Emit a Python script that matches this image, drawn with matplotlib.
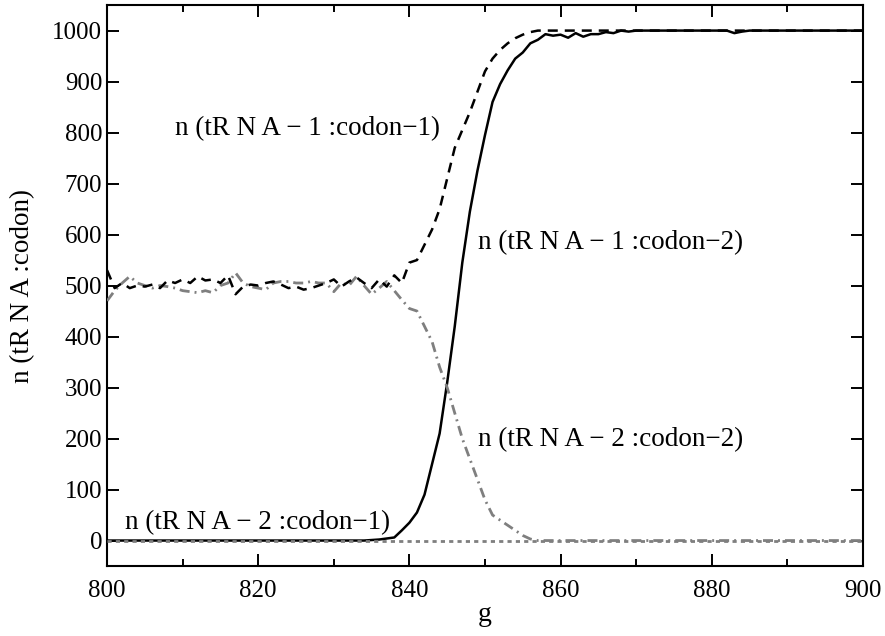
import numpy as np
import matplotlib
matplotlib.use("Agg")
import matplotlib.pyplot as plt
from matplotlib.ticker import MultipleLocator

plt.rcParams['font.family'] = ['Liberation Serif', 'DejaVu Serif']

# generation index
g = np.arange(800, 901)

# n(tRNA-1:codon-1), black dashed
t1c1 = [530, 495, 505, 495, 500, 498, 502, 495, 510, 505,
        512, 505, 518, 510, 512, 505, 520, 483, 498, 502,
        500, 505, 508, 502, 495, 498, 492, 495, 500, 505,
        512, 498, 508, 516, 505, 495, 512, 498, 520, 505,
        545, 550, 580, 610, 650, 710, 770, 805, 840, 880,
        920, 945, 962, 975, 985, 992, 997, 1000, 1000, 1000] + [1000] * 41

# n(tRNA-1:codon-2), black solid
t1c2 = [0] * 35 + [1, 2, 4, 6, 20,
        35, 55, 90, 150, 210, 310, 420, 545, 645, 725,
        795, 860, 895, 922, 945, 957, 975, 982, 993, 990,
        992, 986, 995, 988, 993, 993, 997, 995, 1000, 998,
        1000, 1000, 1000, 1000, 1000, 1000, 1000, 1000, 1000, 1000,
        1000, 1000, 1000, 995, 998, 1000, 1000, 1000, 1000, 1000,
        1000, 1000, 1000, 1000, 1000, 1000, 1000, 1000, 1000, 1000,
        1000]

# n(tRNA-2:codon-2), grey dash-dot
t2c2 = [470, 490, 505, 518, 505, 500, 495, 500, 498, 495,
        490, 488, 486, 490, 486, 500, 505, 525, 505, 498,
        495, 492, 505, 508, 508, 505, 505, 508, 505, 505,
        488, 505, 500, 518, 500, 483, 495, 508, 490, 472,
        455, 450, 420, 390, 340, 300, 250, 200, 160, 120,
        80, 50, 40, 30, 20, 10, 3] + [0] * 44

# n(tRNA-2:codon-1), grey dotted
t2c1 = [0] * 101

labels = ["n (tR N A \u2212 1 :codon\u22121)",
          "n (tR N A \u2212 1 :codon\u22122)",
          "n (tR N A \u2212 2 :codon\u22122)",
          "n (tR N A \u2212 2 :codon\u22121)"]
label_pos = [(809.0, 807), (849.1, 585), (849.1, 197), (802.4, 35)]

fig = plt.figure(figsize=(8.85, 6.36), dpi=100)
ax = fig.add_axes([0.121, 0.110, 0.854, 0.882])

ax.plot(g, t1c2, color='black', lw=1.8, zorder=2)
ax.plot(g, t2c1, color='#7f7f7f', lw=2.0, ls=(0, (1.5, 1.5)), zorder=3)
ax.plot(g, t2c2, color='#7f7f7f', lw=2.0, ls=(0, (3.6, 1.8, 0.7, 1.8)), zorder=3)
ax.plot(g, t1c1, color='black', lw=1.8, ls=(0, (4, 2.8)), zorder=4)

for txt, (x, y) in zip(labels, label_pos):
    ax.text(x, y, txt, fontsize=19.5, ha='left', va='center')

ax.set_xlim(800, 900)
ax.set_ylim(-50, 1050)
ax.xaxis.set_major_locator(MultipleLocator(20))
ax.xaxis.set_minor_locator(MultipleLocator(10))
ax.yaxis.set_major_locator(MultipleLocator(100))
ax.tick_params(which='both', direction='in', top=True, right=True, width=1.4, labelsize=18)
ax.tick_params(which='major', length=8.5)
ax.tick_params(which='minor', length=5)
ax.tick_params(axis='x', pad=10)
for s in ax.spines.values():
    s.set_linewidth(1.5)

ax.set_xlabel("g", fontsize=20, labelpad=0)
ax.set_ylabel("n (tR N A :codon)", fontsize=19.5, labelpad=12)

fig.savefig("out.png", dpi=100)
